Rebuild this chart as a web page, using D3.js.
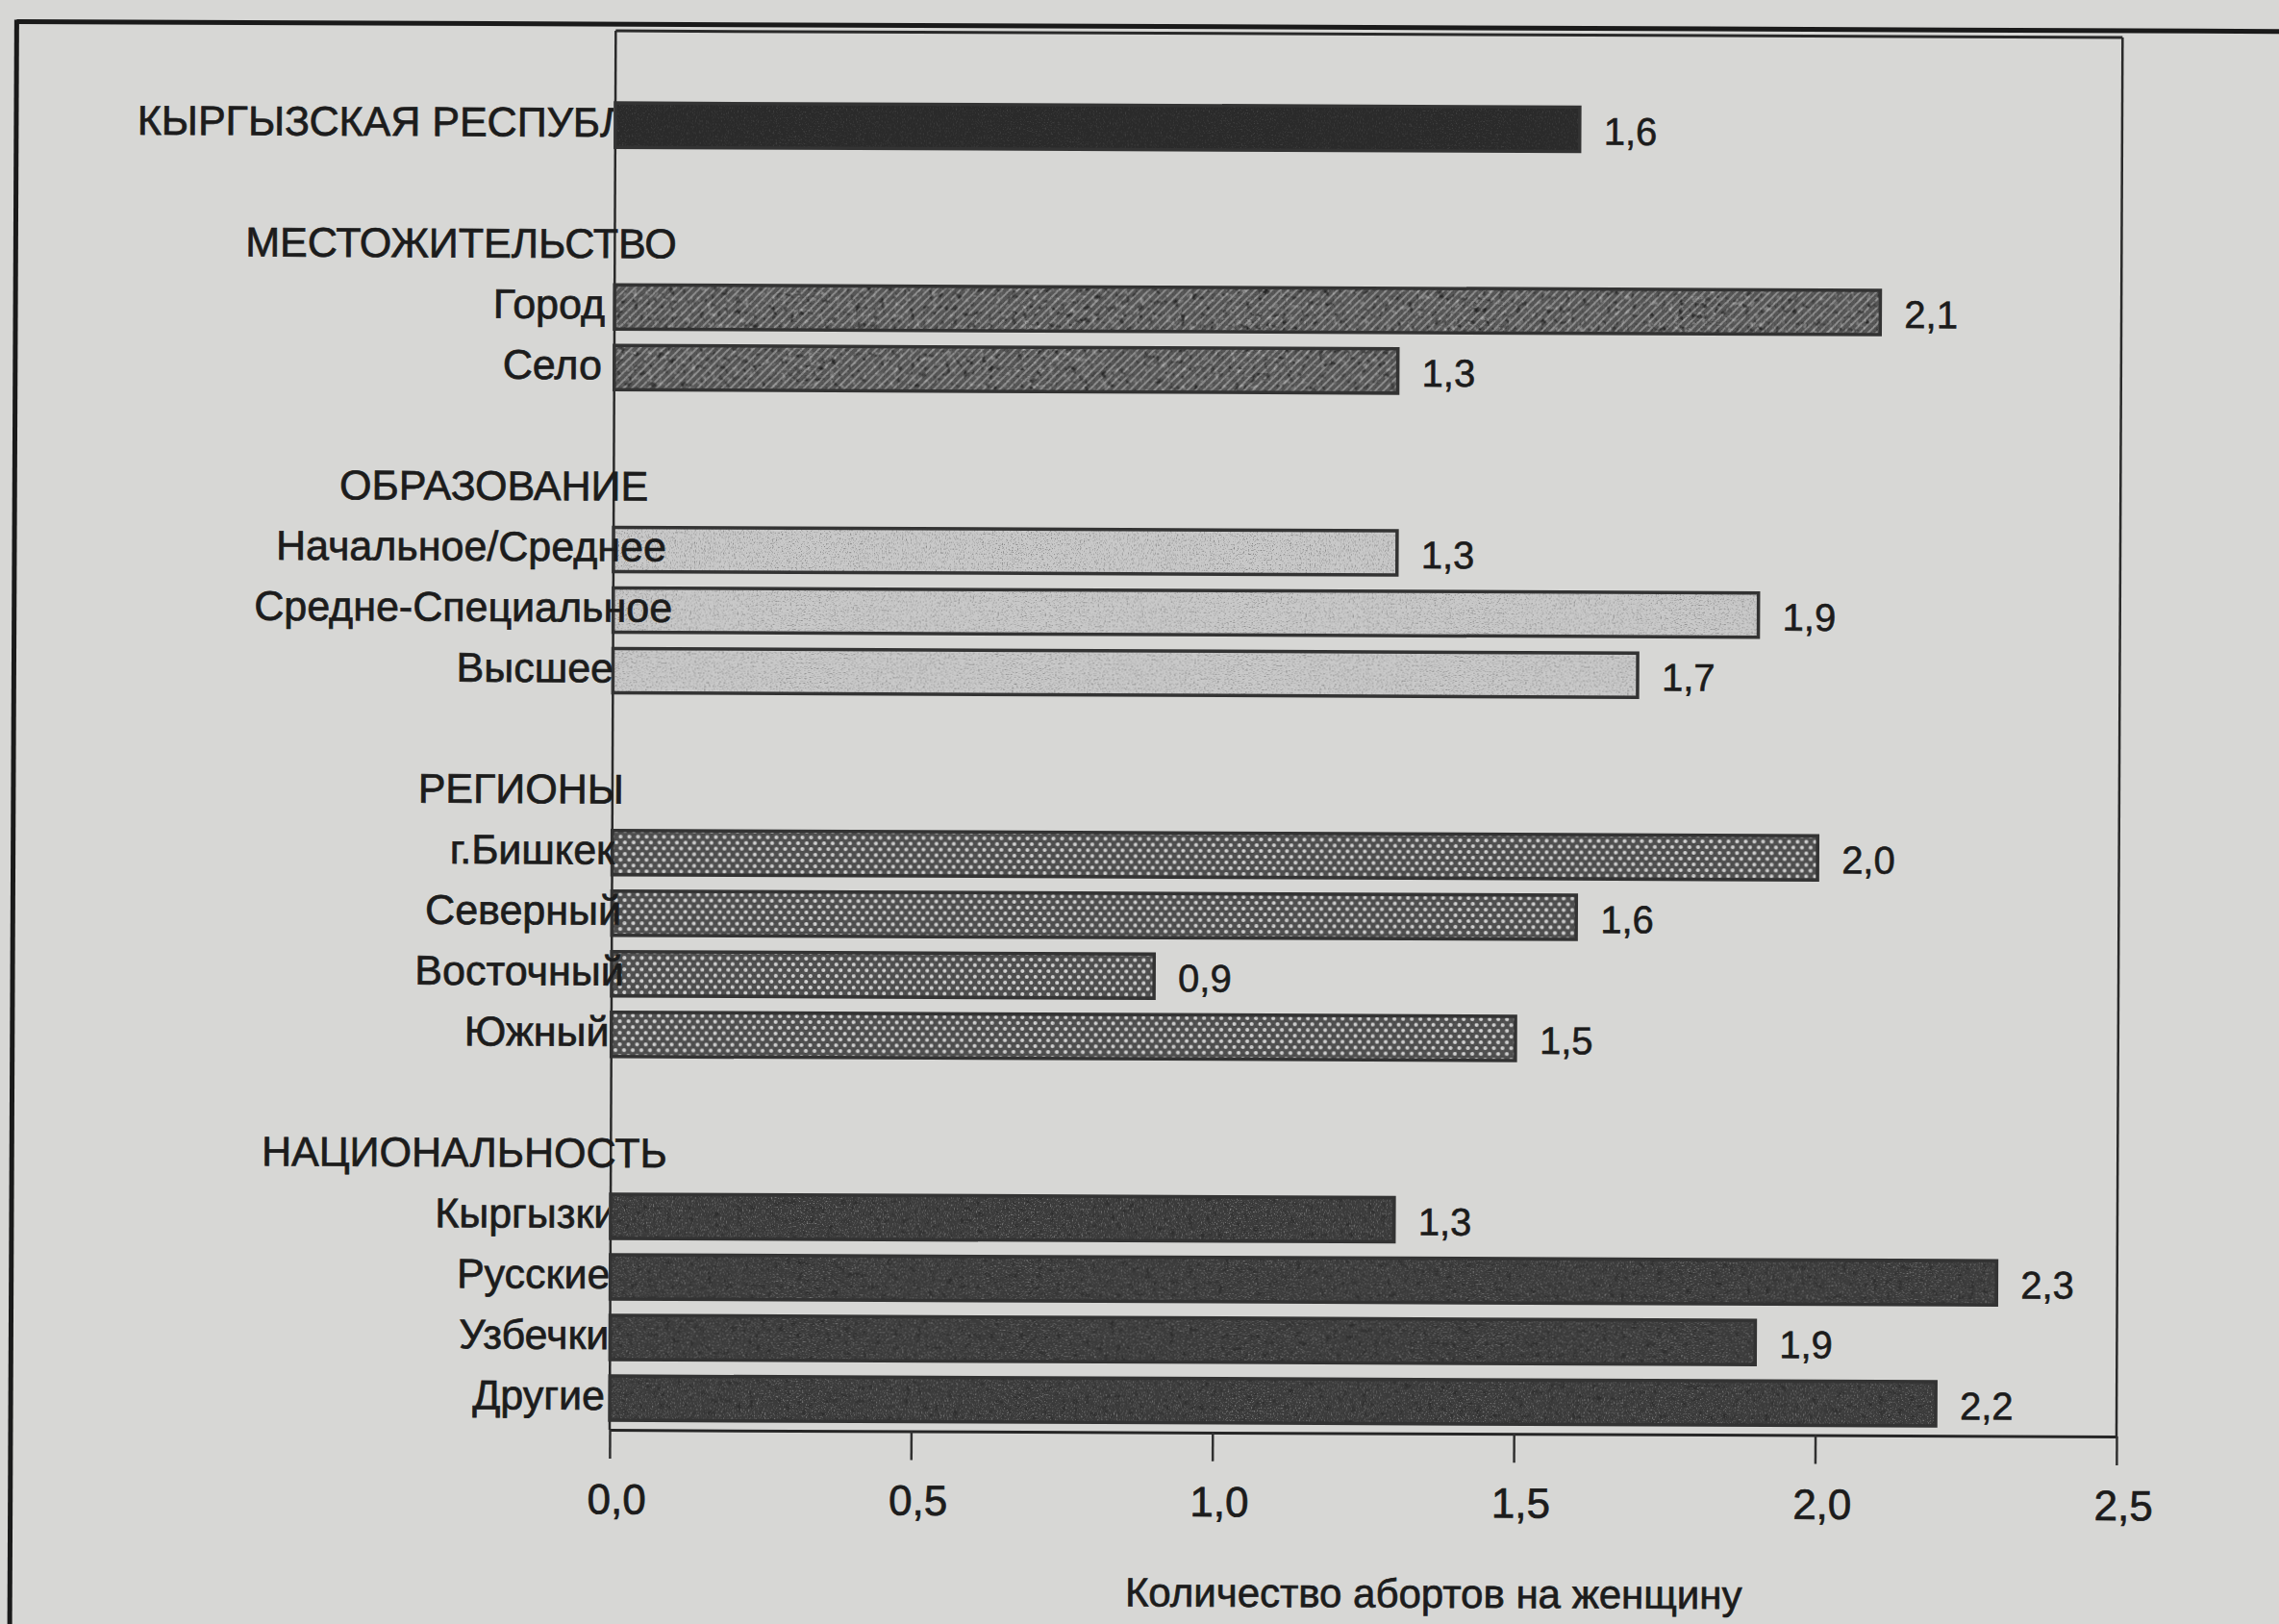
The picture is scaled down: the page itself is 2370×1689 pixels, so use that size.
<!DOCTYPE html>
<html>
<head>
<meta charset="utf-8">
<script src="https://cdn.jsdelivr.net/npm/d3@7"></script>
<style>
  html, body { margin: 0; padding: 0; background: #d7d7d5; }
  svg { display: block; }
</style>
</head>
<body>
<svg id="chart" width="2370" height="1689"></svg>
<script>
// Rows of the chart, top to bottom: group headers and blank spacer rows carry no value.
const categories = [
  "КЫРГЫЗСКАЯ РЕСПУБЛИКА", "",
  "МЕСТОЖИТЕЛЬСТВО", "Город", "Село", "",
  "ОБРАЗОВАНИЕ", "Начальное/Среднее", "Средне-Специальное", "Высшее", "",
  "РЕГИОНЫ", "г.Бишкек", "Северный", "Восточный", "Южный", "",
  "НАЦИОНАЛЬНОСТЬ", "Кыргызки", "Русские", "Узбечки", "Другие"
];
const values = [
  1.6, null,
  null, 2.1, 1.3, null,
  null, 1.3, 1.9, 1.7, null,
  null, 2.0, 1.6, 0.9, 1.5, null,
  null, 1.3, 2.3, 1.9, 2.2
];
const groups = [
  "total", null,
  null, "residence", "residence", null,
  null, "education", "education", "education", null,
  null, "region", "region", "region", "region", null,
  null, "nation", "nation", "nation", "nation"
];
const xTicks = [0, 0.5, 1.0, 1.5, 2.0, 2.5];
const axisTitle = "Количество абортов на женщину";

const W = 2370, H = 1689;
const FONT = "'Liberation Sans', Arial, Helvetica, sans-serif";
const INK = "#1c1c1c";
const svg = d3.select("#chart");
const defs = svg.append("defs");

// Fill patterns
const hatch = defs.append("pattern").attr("id", "hatch")
  .attr("width", 6).attr("height", 6).attr("patternUnits", "userSpaceOnUse")
  .attr("patternTransform", "rotate(45)");
hatch.append("rect").attr("width", 6).attr("height", 6).attr("fill", "#585858");
hatch.append("rect").attr("width", 2).attr("height", 6).attr("fill", "#8c8c8c");

const dots = defs.append("pattern").attr("id", "dots")
  .attr("width", 9).attr("height", 12).attr("patternUnits", "userSpaceOnUse");
dots.append("rect").attr("width", 9).attr("height", 12).attr("fill", "#505050");
dots.append("circle").attr("cx", 2.25).attr("cy", 3).attr("r", 2.1).attr("fill", "#d2d2d2");
dots.append("circle").attr("cx", 6.75).attr("cy", 9).attr("r", 2.1).attr("fill", "#d2d2d2");

// Print grain: speckles clipped to the shape they are applied to
function grainFilter(id, freq, seed, light, k, b) {
  const f = defs.append("filter").attr("id", id)
    .attr("x", 0).attr("y", 0).attr("width", 1).attr("height", 1);
  f.append("feTurbulence").attr("type", "fractalNoise").attr("baseFrequency", freq)
    .attr("numOctaves", 2).attr("seed", seed).attr("result", "t");
  const c = light ? 1 : 0;
  f.append("feColorMatrix").attr("in", "t").attr("type", "matrix")
    .attr("values", `0 0 0 0 ${c}  0 0 0 0 ${c}  0 0 0 0 ${c}  ${k} 0 0 0 ${b}`)
    .attr("result", "s");
  f.append("feComposite").attr("in", "s").attr("in2", "SourceGraphic").attr("operator", "in");
}
grainFilter("speckLight", 0.7, 7, true, 4, -2.2);
grainFilter("speckDark", 0.8, 11, false, -4, 1.8);
grainFilter("blotchLight", 0.18, 3, true, 4, -2.3);
grainFilter("blotchDark", 0.16, 5, false, -4, 1.7);

svg.append("rect").attr("width", W).attr("height", H).attr("fill", "#d7d7d5");

const g = svg.append("g").attr("transform", "rotate(0.25,1300,800)");

const x = d3.scaleLinear().domain([0, 2.5]).range([637, 2204]);
const y = d3.scaleBand().domain(d3.range(categories.length))
  .range([101.5, 1488.5]).paddingInner(0.27).paddingOuter(0.135);
const axisY = 1490, plotTop = 35;

// Label text under dark bars is hidden by them
defs.append("clipPath").attr("id", "leftOfAxis")
  .append("rect").attr("x", -100).attr("y", 0).attr("width", x(0) + 98).attr("height", H);

// Page frame
g.append("line").attr("x1", 14).attr("y1", 28).attr("x2", 2440).attr("y2", 28)
  .attr("stroke", "#1a1a1a").attr("stroke-width", 5);
g.append("line").attr("x1", 14).attr("y1", 26).attr("x2", 14).attr("y2", 1760)
  .attr("stroke", "#1a1a1a").attr("stroke-width", 5);

// Plot area border
g.append("line").attr("x1", x(0)).attr("y1", plotTop).attr("x2", x(2.5)).attr("y2", plotTop)
  .attr("stroke", "#2a2a2a").attr("stroke-width", 3);
g.append("line").attr("x1", x(0)).attr("y1", plotTop).attr("x2", x(0)).attr("y2", axisY)
  .attr("stroke", "#2a2a2a").attr("stroke-width", 2.5);
g.append("line").attr("x1", x(2.5)).attr("y1", plotTop).attr("x2", x(2.5)).attr("y2", axisY)
  .attr("stroke", "#2a2a2a").attr("stroke-width", 2.5);

// Bars
const fills = {
  total: "#2a2a2a",
  residence: "url(#hatch)",
  education: "#c9c9c9",
  region: "url(#dots)",
  nation: "#3b3b3b"
};
const grains = {
  total: [["speckLight", 0.12]],
  residence: [["blotchDark", 0.55], ["blotchLight", 0.3], ["speckDark", 0.25]],
  education: [["speckDark", 0.35]],
  region: [["speckDark", 0.15]],
  nation: [["speckLight", 0.35], ["blotchDark", 0.25]]
};
const darkGroups = new Set(["total", "nation"]);
const barRows = d3.range(categories.length).filter(i => values[i] != null);

const bars = g.selectAll("g.bar").data(barRows).join("g").attr("class", "bar");
bars.append("rect")
  .attr("x", x(0)).attr("y", i => y(i))
  .attr("width", i => x(values[i]) - x(0)).attr("height", y.bandwidth())
  .attr("fill", i => fills[groups[i]]);
bars.each(function (i) {
  const sel = d3.select(this);
  grains[groups[i]].forEach(([id, op]) => {
    sel.append("rect")
      .attr("x", x(0)).attr("y", y(i))
      .attr("width", x(values[i]) - x(0)).attr("height", y.bandwidth())
      .attr("fill", "#000").attr("filter", `url(#${id})`).attr("opacity", op);
  });
});
bars.append("rect")
  .attr("x", x(0)).attr("y", i => y(i))
  .attr("width", i => x(values[i]) - x(0)).attr("height", y.bandwidth())
  .attr("fill", "none").attr("stroke", "#333").attr("stroke-width", 3.5);

// X axis
const fmt = v => d3.format(".1f")(v).replace(".", ",");
const ax = g.append("g").attr("transform", `translate(0,${axisY})`)
  .call(d3.axisBottom(x).tickValues(xTicks).tickSize(30).tickSizeOuter(0)
    .tickPadding(26).tickFormat(fmt));
ax.attr("font-size", 44).attr("font-family", FONT);
ax.select(".domain").attr("stroke", "#262626").attr("stroke-width", 3);
ax.selectAll(".tick line").attr("stroke", "#303030").attr("stroke-width", 2.5);
ax.selectAll(".tick text").attr("fill", INK).attr("x", 7)
  .attr("stroke", INK).attr("stroke-width", 0.7);

// Category and group labels
const labelAnchor = x(0) - 36;
g.selectAll("text.cat")
  .data(d3.range(categories.length).filter(i => categories[i]))
  .join("text").attr("class", "cat")
  .text(i => categories[i])
  .attr("font-family", FONT).attr("font-size", 43).attr("fill", INK)
  .attr("stroke", INK).attr("stroke-width", 0.7)
  .attr("text-anchor", "end")
  .attr("y", i => y(i) + y.bandwidth() / 2 + 12)
  .attr("clip-path", i => darkGroups.has(groups[i]) ? "url(#leftOfAxis)" : null)
  .each(function () {
    const w = this.getComputedTextLength();
    d3.select(this).attr("x", labelAnchor + 0.224 * w);
  });

// Value labels
g.selectAll("text.val").data(barRows).join("text").attr("class", "val")
  .attr("x", i => x(values[i]) + 25)
  .attr("y", i => y(i) + y.bandwidth() / 2 + 16)
  .attr("font-family", FONT).attr("font-size", 40).attr("fill", INK)
  .attr("stroke", INK).attr("stroke-width", 0.6)
  .text(i => fmt(values[i]));

// Axis title
g.append("text")
  .attr("x", (x(0) + x(2.5)) / 2 + 74).attr("y", 1671)
  .attr("text-anchor", "middle")
  .attr("font-family", FONT).attr("font-size", 42).attr("fill", INK)
  .attr("stroke", INK).attr("stroke-width", 0.7)
  .text(axisTitle);
</script>
</body>
</html>
